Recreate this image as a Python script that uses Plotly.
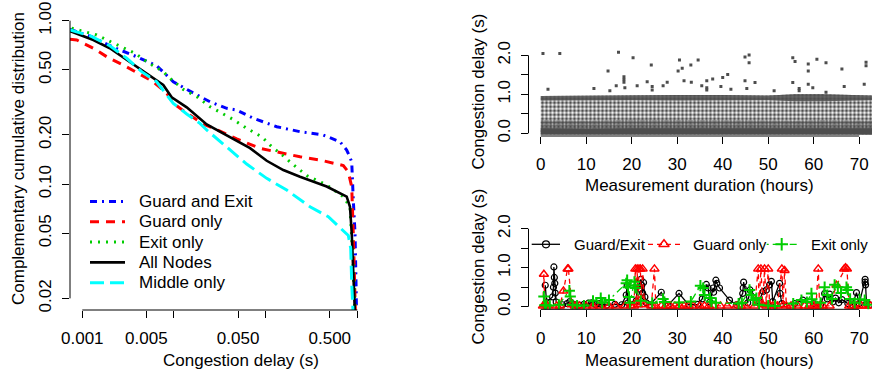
import math
import plotly.graph_objects as go

W, H = 872, 370
FONT = "Liberation Sans, Arial, Helvetica, sans-serif"

# ---------------- Left panel: CCDF of congestion delay ----------------
ge_delay = [0.000734, 0.001266, 0.00218, 0.00392, 0.00648, 0.00983, 0.01624, 0.0247, 0.0376,
            0.0483, 0.0733, 0.132, 0.2366, 0.4246, 0.646, 0.764, 0.81, 0.867, 0.902, 0.942, 0.97, 0.985]
ge_ccdf = [0.886, 0.798, 0.688, 0.602, 0.530, 0.423, 0.361, 0.319, 0.291,
           0.284, 0.253, 0.2245, 0.2094, 0.1998, 0.1817, 0.1617, 0.1507, 0.137, 0.080, 0.0502, 0.022, 0.012]

go_delay = [0.000734, 0.000869, 0.00132, 0.00192, 0.0028, 0.00392, 0.00595, 0.00833, 0.00983,
            0.01375, 0.0209, 0.0317, 0.0483, 0.0867, 0.1556, 0.2366, 0.391, 0.702, 0.796, 0.867,
            0.902, 0.942, 0.965]
go_ccdf = [0.769, 0.762, 0.678, 0.594, 0.536, 0.483, 0.423, 0.361, 0.312,
           0.272, 0.233, 0.211, 0.189, 0.1656, 0.1543, 0.147, 0.1404, 0.130, 0.1186, 0.0964,
           0.0499, 0.0195, 0.012]

eo_delay = [0.000766, 0.001436, 0.00218, 0.00318, 0.00376, 0.00524, 0.00764, 0.00905, 0.01263,
            0.01769, 0.0247, 0.036, 0.0443, 0.062, 0.0904, 0.121, 0.1432, 0.192, 0.28, 0.4624,
            0.702, 0.830, 0.867, 0.902, 0.942, 0.96]
eo_ccdf = [0.899, 0.818, 0.730, 0.662, 0.632, 0.553, 0.488, 0.444, 0.380,
           0.343, 0.2977, 0.265, 0.2485, 0.2196, 0.195, 0.166, 0.155, 0.134, 0.1129, 0.0988,
           0.0838, 0.0727, 0.0502, 0.0312, 0.017, 0.012]

all_delay = [0.000734, 0.00132, 0.002, 0.00305, 0.00503, 0.00764, 0.00944, 0.01377, 0.02275,
             0.0376, 0.0675, 0.1026, 0.1556, 0.2366, 0.4624, 0.764, 0.830, 0.867, 0.902, 0.942, 0.96]
all_ccdf = [0.865, 0.762, 0.678, 0.575, 0.477, 0.404, 0.340, 0.295, 0.232,
            0.198, 0.166, 0.139, 0.122, 0.111, 0.0967, 0.0838, 0.0727, 0.0502, 0.0312, 0.017, 0.012]

mid_delay = [0.000734, 0.00121, 0.002, 0.00305, 0.00444, 0.00648, 0.00833, 0.00983, 0.01377,
             0.0192, 0.02275, 0.0376, 0.062, 0.1026, 0.1695, 0.304, 0.4816, 0.796, 0.845, 0.867,
             0.902, 0.92]
mid_ccdf = [0.877, 0.809, 0.703, 0.589, 0.488, 0.423, 0.351, 0.312, 0.2685,
            0.2355, 0.2144, 0.1694, 0.1327, 0.1085, 0.092, 0.0727, 0.0632, 0.0485, 0.0406, 0.0247,
            0.0178, 0.012]

ccdf_names = ["Guard and Exit", "Guard only", "Exit only", "All Nodes", "Middle only"]
ccdf_x_ticks = [0.001, 0.005, 0.01, 0.05, 0.1, 0.5, 1.0]
ccdf_x_labels = ["0.001", "0.005", "", "0.050", "", "0.500", ""]
ccdf_y_ticks = [0.02, 0.05, 0.1, 0.2, 0.5, 1.0]
ccdf_y_labels = ["0.02", "0.05", "0.10", "0.20", "0.50", "1.00"]

# ---------------- Top right: all congestion samples over time ----------------
band_hours = [0.0, 10.0, 20.0, 30.0, 40.0, 50.0, 56.0, 62.0, 72.8]
band_top = [0.96, 0.97, 0.97, 0.98, 0.98, 0.97, 1.00, 1.00, 0.97]
strip_bottom = [0.84, 0.84, 0.85, 0.84, 0.84, 0.85, 0.82, 0.82, 0.85]
speckle_top = [0.34, 0.33, 0.35, 0.34, 0.33, 0.32, 0.33, 0.34, 0.33]
solid_top = [0.13, 0.12, 0.13, 0.13, 0.12, 0.13, 0.13, 0.12, 0.13]
band_floor = [-0.03] * len(band_hours)

out_hours = [0.5, 4.2, 17.1, 20.3, 24.3, 30.5, 31.1, 30.2, 33.0, 34.6,
             14.8, 1.6, 11.7, 15.2, 18.3, 18.3, 18.3, 18.5, 16.6, 21.2,
             23.4, 24.5, 24.5, 26.9, 27.8, 31.5, 33.1, 44.9, 45.8, 45.8,
             55.4, 55.9, 58.8, 58.8, 60.7, 62.7, 66.2, 71.5, 71.5, 36.5,
             37.8, 40.0, 41.1, 44.9, 47.1, 35.4, 36.5, 36.5, 39.6, 41.8,
             45.3, 51.3, 55.4, 56.8, 56.8, 58.8, 59.8, 62.7, 66.7, 71.1]
out_delay = [2.05, 2.05, 2.08, 1.94, 1.75, 1.88, 1.67, 1.6, 1.75, 1.88,
             1.6, 1.13, 1.15, 1.09, 1.45, 1.38, 1.31, 1.17, 1.22, 1.22,
             1.32, 1.2, 1.11, 1.22, 1.31, 1.35, 1.31, 1.96, 2.01, 1.81,
             1.94, 1.84, 1.78, 1.6, 1.9, 1.81, 1.65, 1.82, 1.73, 1.35,
             1.39, 1.43, 1.51, 1.35, 1.3, 1.22, 1.17, 1.11, 1.2, 1.13,
             1.15, 1.09, 1.3, 1.15, 1.09, 1.26, 1.17, 1.05, 1.2, 1.26]

# ---------------- Bottom right: per-position congestion over time ----------------
gx_hours = [1.0, 1.3, 2.6, 2.8, 2.9, 3.0, 3.1, 3.2, 3.4,
            4.8, 5.8, 6.4, 6.9, 7.6, 8.5, 9.5, 10.5, 11.2, 12.0,
            12.8, 13.5, 14.5, 16.3, 17.8, 18.8, 19.0, 19.2, 21.0, 21.3,
            21.7, 22.0, 22.2, 22.4, 22.6, 22.9, 23.2, 24.0, 26.5, 28.0,
            30.4, 32.5, 34.5, 35.5, 36.4, 36.8, 37.2, 37.9, 38.0, 38.5,
            38.7, 39.3, 41.5, 43.0, 44.4, 44.5, 44.6, 45.5, 46.0, 48.0,
            48.9, 49.6, 50.3, 50.7, 51.0, 52.5, 52.6, 53.0, 55.8, 57.6,
            59.9, 61.5, 62.4, 63.0, 63.5, 64.2, 64.8, 65.5, 66.2, 67.5,
            68.5, 69.4, 70.0, 71.3, 71.3, 71.4, 71.6, 72.3]
gx_delay = [0.55, 0.12, 0.25, 0.5, 1.02, 0.75, 0.6, 0.35, 0.12,
            0.05, 0.08, 0.13, 0.08, 0.05, 0.04, 0.06, 0.09, 0.1, 0.06,
            0.08, 0.05, 0.04, 0.06, 0.05, 0.3, 0.55, 0.1, 0.15, 0.6,
            0.45, 0.7, 0.55, 0.35, 0.62, 0.25, 0.1, 0.05, 0.37, 0.04,
            0.34, 0.05, 0.06, 0.2, 0.57, 0.48, 0.12, 0.48, 0.37, 0.68,
            0.6, 0.48, 0.17, 0.05, 0.34, 0.48, 0.63, 0.1, 0.43, 0.15,
            0.39, 0.43, 0.56, 0.65, 0.13, 0.6, 0.34, 0.08, 0.08, 0.17,
            0.08, 0.05, 0.34, 0.2, 0.32, 0.12, 0.22, 0.1, 0.18, 0.08,
            0.05, 0.36, 0.08, 0.7, 0.63, 0.56, 0.08, 0.05]

gd_hours = [0.5, 0.7, 0.9, 1.5, 3.5, 4.2, 5.0, 5.9, 6.1, 6.8,
            7.5, 8.5, 10.0, 11.5, 13.0, 15.0, 16.5, 18.5, 19.8, 20.5,
            20.8, 21.0, 21.2, 21.4, 21.6, 21.9, 22.1, 22.4, 22.8, 24.3,
            25.0, 25.3, 26.5, 27.5, 28.5, 29.5, 30.5, 31.5, 32.5, 33.5,
            35.0, 36.0, 37.0, 38.0, 39.5, 41.0, 43.0, 44.0, 45.0, 47.0,
            47.8, 48.0, 48.4, 48.8, 49.2, 49.6, 50.0, 50.3, 51.0, 52.0,
            53.0, 53.3, 53.6, 54.0, 55.0, 56.5, 58.0, 59.0, 60.0, 60.5,
            61.0, 61.3, 62.0, 63.5, 65.0, 66.7, 67.0, 67.3, 67.8, 68.5,
            69.5, 70.5, 71.5, 72.5]
gd_delay = [0.02, 0.83, 0.05, 0.02, 0.02, 0.02, 0.4, 0.97, 0.97, 0.05,
            0.02, 0.02, 0.02, 0.02, 0.02, 0.02, 0.02, 0.02, 0.03, 0.02,
            0.97, 0.1, 0.97, 0.05, 0.97, 0.97, 0.2, 0.97, 0.05, 0.02,
            0.97, 0.02, 0.02, 0.02, 0.02, 0.02, 0.02, 0.02, 0.02, 0.02,
            0.02, 0.02, 0.02, 0.02, 0.02, 0.02, 0.02, 0.02, 0.02, 0.02,
            0.97, 0.1, 0.97, 0.05, 0.97, 0.02, 0.97, 0.05, 0.02, 0.02,
            0.97, 0.05, 0.93, 0.02, 0.02, 0.02, 0.02, 0.02, 0.02, 0.02,
            0.97, 0.02, 0.02, 0.02, 0.55, 0.97, 1.0, 0.97, 0.02, 0.02,
            0.02, 0.02, 0.02, 0.02]

ex_hours = [0.7, 0.9, 1.2, 2.0, 4.0, 6.3, 6.5, 7.0, 8.0, 9.5,
            11.5, 13.2, 13.5, 15.0, 18.8, 19.0, 19.2, 19.4, 19.6, 20.6,
            20.7, 20.8, 22.0, 24.5, 26.9, 27.2, 30.4, 33.0, 35.1, 35.7,
            36.0, 37.2, 37.5, 38.5, 43.5, 44.2, 45.9, 46.3, 46.7, 47.4,
            48.0, 50.0, 51.5, 55.5, 57.3, 58.5, 59.5, 59.6, 61.5, 62.4,
            63.0, 64.0, 64.6, 65.3, 66.0, 67.2, 67.5, 68.0, 69.0, 70.1,
            71.2, 72.0]
ex_delay = [0.26, 0.04, 0.04, 0.03, 0.05, 0.41, 0.26, 0.05, 0.03, 0.03,
            0.15, 0.22, 0.1, 0.17, 0.6, 0.68, 0.5, 0.25, 0.1, 0.64,
            0.55, 0.48, 0.15, 0.1, 0.2, 0.12, 0.11, 0.13, 0.54, 0.48,
            0.3, 0.22, 0.13, 0.1, 0.08, 0.1, 0.43, 0.3, 0.17, 0.22,
            0.05, 0.03, 0.02, 0.08, 0.17, 0.12, 0.34, 0.19, 0.1, 0.5,
            0.3, 0.2, 0.56, 0.5, 0.35, 0.5, 0.43, 0.2, 0.1, 0.19,
            0.17, 0.05]

time_names = ["Guard/Exit", "Guard only", "Exit only"]
hour_ticks = [0, 10, 20, 30, 40, 50, 60, 70]
delay_ticks = [0.0, 0.5, 1.0, 1.5, 2.0]
delay_labels = ["0.0", "", "1.0", "", "2.0"]

# ---------------- geometry (pixels) ----------------
L_X0, L_X1, L_XR = 70.0, 359.2, [-3.134, 0.0196]
L_YB, L_YT, L_YR = 310.0, 12.0, [-1.770, 0.0532]
R_X0, R_X1, R_XR = 528.5, 872.0, [-2.68, 72.81]
T_YB, T_YT, T_YR = 136.0, 48.7, [-0.069, 2.17]
B_YB, B_YT, B_YR = 309.3, 222.1, [-0.067, 2.17]


def fx(px):
    return px / W


def fy(py):
    return (H - py) / H


def lin(v, r, p0, p1):
    return p0 + (v - r[0]) / (r[1] - r[0]) * (p1 - p0)


fig = go.Figure()

# left panel curves
ccdf_styles = [
    (ge_delay, ge_ccdf, "#0000FF", "7px,5px,2px,5px", 3),
    (go_delay, go_ccdf, "#FF0000", "9px,7px", 3),
    (eo_delay, eo_ccdf, "#00CD00", "2px,6px", 3),
    (all_delay, all_ccdf, "#000000", "solid", 2.6),
    (mid_delay, mid_ccdf, "#00FFFF", "14px,6px", 3),
]
for name, (xs, ys, col, dash, w) in zip(ccdf_names, ccdf_styles):
    fig.add_trace(go.Scatter(x=xs, y=ys, mode="lines", name=name, showlegend=False,
                             line=dict(color=col, dash=dash, width=w),
                             xaxis="x", yaxis="y", hoverinfo="skip"))

# top right: dense band drawn as layered (textured) fills, outliers as points
GRAY = "77,77,77"


def band(lo, hi, alpha, pattern=None):
    xs = band_hours + band_hours[::-1]
    ys = hi + lo[::-1]
    kw = {}
    if pattern:
        kw["fillpattern"] = pattern
        fc = "rgba(0,0,0,0)"
    else:
        fc = f"rgba({GRAY},{alpha})"
    fig.add_trace(go.Scatter(x=xs, y=ys, mode="lines", fill="toself",
                             fillcolor=fc, line=dict(width=0),
                             showlegend=False, xaxis="x2", yaxis="y2", hoverinfo="skip", **kw))


band(band_floor, band_top, 0.0, pattern=dict(shape=".", size=4, solidity=0.55,
                                             fgcolor=f"rgb({GRAY})", bgcolor="rgba(0,0,0,0)"))
band(band_floor, speckle_top, 0.0, pattern=dict(shape=".", size=3, solidity=0.55,
                                                fgcolor=f"rgb({GRAY})", bgcolor="rgba(0,0,0,0)"))
band(strip_bottom, band_top, 0.85)
band(band_floor, solid_top, 1.0)
fig.add_trace(go.Scatter(x=out_hours, y=out_delay, mode="markers", showlegend=False,
                         marker=dict(symbol="square", size=3, color=f"rgb({GRAY})"),
                         xaxis="x2", yaxis="y2"))

# bottom right series
time_styles = [
    (gx_hours, gx_delay, "#000000", "solid", "circle-open", 6, 1.2),
    (gd_hours, gd_delay, "#FF0000", "5px,4px", "triangle-up-open", 8, 1.5),
    (ex_hours, ex_delay, "#00CD00", "2px,4px,7px,4px", "cross-thin-open", 8, 2),
]
for name, (xs, ys, col, dash, sym, sz, mlw) in zip(time_names, time_styles):
    fig.add_trace(go.Scatter(x=xs, y=ys, mode="lines+markers", name=name, showlegend=False,
                             line=dict(color=col, dash=dash, width=1.3),
                             marker=dict(symbol=sym, size=sz, color=col, line=dict(color=col, width=mlw)),
                             xaxis="x3", yaxis="y3", cliponaxis=True))

# ---------------- legends (overlay in pixel space) ----------------
leg_rows = [201.5, 221.8, 242.1, 262.4, 282.7]
for (xs, ys, col, dash, w), row in zip(ccdf_styles, leg_rows):
    fig.add_trace(go.Scatter(x=[90, 125], y=[row, row], mode="lines", showlegend=False,
                             line=dict(color=col, dash=dash, width=w),
                             xaxis="x4", yaxis="y4", hoverinfo="skip"))
annotations = []
for name, row in zip(ccdf_names, leg_rows):
    annotations.append(dict(text=name, x=fx(137), y=fy(row), xref="paper", yref="paper",
                            xanchor="left", yanchor="middle", showarrow=False,
                            font=dict(size=17, color="#000")))

leg2_y = 244.3
leg2_keys = [(531.7, 560.0, 546.0, 572.0), (648.0, 680.0, 664.0, 691.0), (766.7, 796.7, 781.7, 808.5)]
for (x0, x1, xm, xt), (xs, ys, col, dash, sym, sz, mlw), name in zip(leg2_keys, time_styles, time_names):
    fig.add_trace(go.Scatter(x=[x0, x1], y=[leg2_y, leg2_y], mode="lines", showlegend=False,
                             line=dict(color=col, dash=dash, width=1.3),
                             xaxis="x4", yaxis="y4", hoverinfo="skip"))
    fig.add_trace(go.Scatter(x=[xm], y=[leg2_y], mode="markers", showlegend=False,
                             marker=dict(symbol=sym, size=sz + 1, color=col, line=dict(color=col, width=mlw)),
                             xaxis="x4", yaxis="y4", hoverinfo="skip"))
    annotations.append(dict(text=name, x=fx(xt), y=fy(leg2_y), xref="paper", yref="paper",
                            xanchor="left", yanchor="middle", showarrow=False,
                            font=dict(size=15, color="#000")))

# axis titles
title_font = dict(size=17, color="#000")
annotations += [
    dict(text="Congestion delay (s)", x=fx(240.7), y=fy(360), xref="paper", yref="paper",
         showarrow=False, font=title_font, xanchor="center", yanchor="middle"),
    dict(text="Complementary cumulative distribution", x=fx(18), y=fy(159), xref="paper", yref="paper",
         showarrow=False, font=title_font, textangle=-90, xanchor="center", yanchor="middle"),
    dict(text="Measurement duration (hours)", x=fx(699), y=fy(185), xref="paper", yref="paper",
         showarrow=False, font=title_font, xanchor="center", yanchor="middle"),
    dict(text="Congestion delay (s)", x=fx(478), y=fy(91.5), xref="paper", yref="paper",
         showarrow=False, font=title_font, textangle=-90, xanchor="center", yanchor="middle"),
    dict(text="Measurement duration (hours)", x=fx(699), y=fy(360), xref="paper", yref="paper",
         showarrow=False, font=title_font, xanchor="center", yanchor="middle"),
    dict(text="Congestion delay (s)", x=fx(478), y=fy(266.5), xref="paper", yref="paper",
         showarrow=False, font=title_font, textangle=-90, xanchor="center", yanchor="middle"),
]

# R-style axis lines spanning first to last tick
shapes = []


def hline(x0, x1, y):
    shapes.append(dict(type="line", xref="paper", yref="paper", x0=fx(x0), x1=fx(x1), y0=fy(y), y1=fy(y),
                       line=dict(color="#000", width=1)))


def vline(x, y0, y1):
    shapes.append(dict(type="line", xref="paper", yref="paper", x0=fx(x), x1=fx(x), y0=fy(y0), y1=fy(y1),
                       line=dict(color="#000", width=1)))


hline(lin(math.log10(ccdf_x_ticks[0]), L_XR, L_X0, L_X1), lin(math.log10(ccdf_x_ticks[-1]), L_XR, L_X0, L_X1), L_YB)
vline(L_X0, lin(math.log10(ccdf_y_ticks[0]), L_YR, L_YB, L_YT), lin(math.log10(ccdf_y_ticks[-1]), L_YR, L_YB, L_YT))
for yb, yt, yr in [(T_YB, T_YT, T_YR), (B_YB, B_YT, B_YR)]:
    hline(lin(hour_ticks[0], R_XR, R_X0, R_X1), lin(hour_ticks[-1], R_XR, R_X0, R_X1), yb)
    vline(R_X0, lin(delay_ticks[0], yr, yb, yt), lin(delay_ticks[-1], yr, yb, yt))

tick_font = dict(size=17, color="#000")
common = dict(showgrid=False, zeroline=False, showline=False, ticks="outside", ticklen=7,
              tickcolor="#000", tickwidth=1, tickfont=tick_font, automargin=False)

fig.update_layout(
    template="none",
    width=W, height=H, margin=dict(l=0, r=0, t=0, b=0, autoexpand=False),
    paper_bgcolor="white", plot_bgcolor="rgba(0,0,0,0)",
    font=dict(family=FONT, color="#000"),
    showlegend=False,
    xaxis=dict(type="log", range=L_XR, domain=[fx(L_X0), fx(L_X1)], anchor="y",
               tickvals=ccdf_x_ticks, ticktext=ccdf_x_labels, ticklabelstandoff=6, **common),
    yaxis=dict(type="log", range=L_YR, domain=[fy(L_YB), fy(L_YT)], anchor="x",
               tickvals=ccdf_y_ticks, ticktext=ccdf_y_labels, tickangle=-90, ticklabelstandoff=4, **common),
    xaxis2=dict(range=R_XR, domain=[fx(R_X0), fx(R_X1)], anchor="y2",
                tickvals=hour_ticks, ticktext=[str(h) for h in hour_ticks], ticklabelstandoff=6, **common),
    yaxis2=dict(range=T_YR, domain=[fy(T_YB), fy(T_YT)], anchor="x2",
                tickvals=delay_ticks, ticktext=delay_labels, tickangle=-90, ticklabelstandoff=4, **common),
    xaxis3=dict(range=R_XR, domain=[fx(R_X0), fx(R_X1)], anchor="y3",
                tickvals=hour_ticks, ticktext=[str(h) for h in hour_ticks], ticklabelstandoff=6, **common),
    yaxis3=dict(range=B_YR, domain=[fy(B_YB), fy(B_YT)], anchor="x3",
                tickvals=delay_ticks, ticktext=delay_labels, tickangle=-90, ticklabelstandoff=4, **common),
    xaxis4=dict(range=[0, W], domain=[0, 1], anchor="y4", visible=False, fixedrange=True, automargin=False),
    yaxis4=dict(range=[H, 0], domain=[0, 1], anchor="x4", visible=False, fixedrange=True, automargin=False),
    annotations=annotations,
    shapes=shapes,
)

fig.write_html(
    "out.html",
    config={"displayModeBar": False},
    post_script="document.documentElement.style.margin='0';document.body.style.margin='0';"
                "document.body.style.padding='0';document.body.style.overflow='hidden';",
)
